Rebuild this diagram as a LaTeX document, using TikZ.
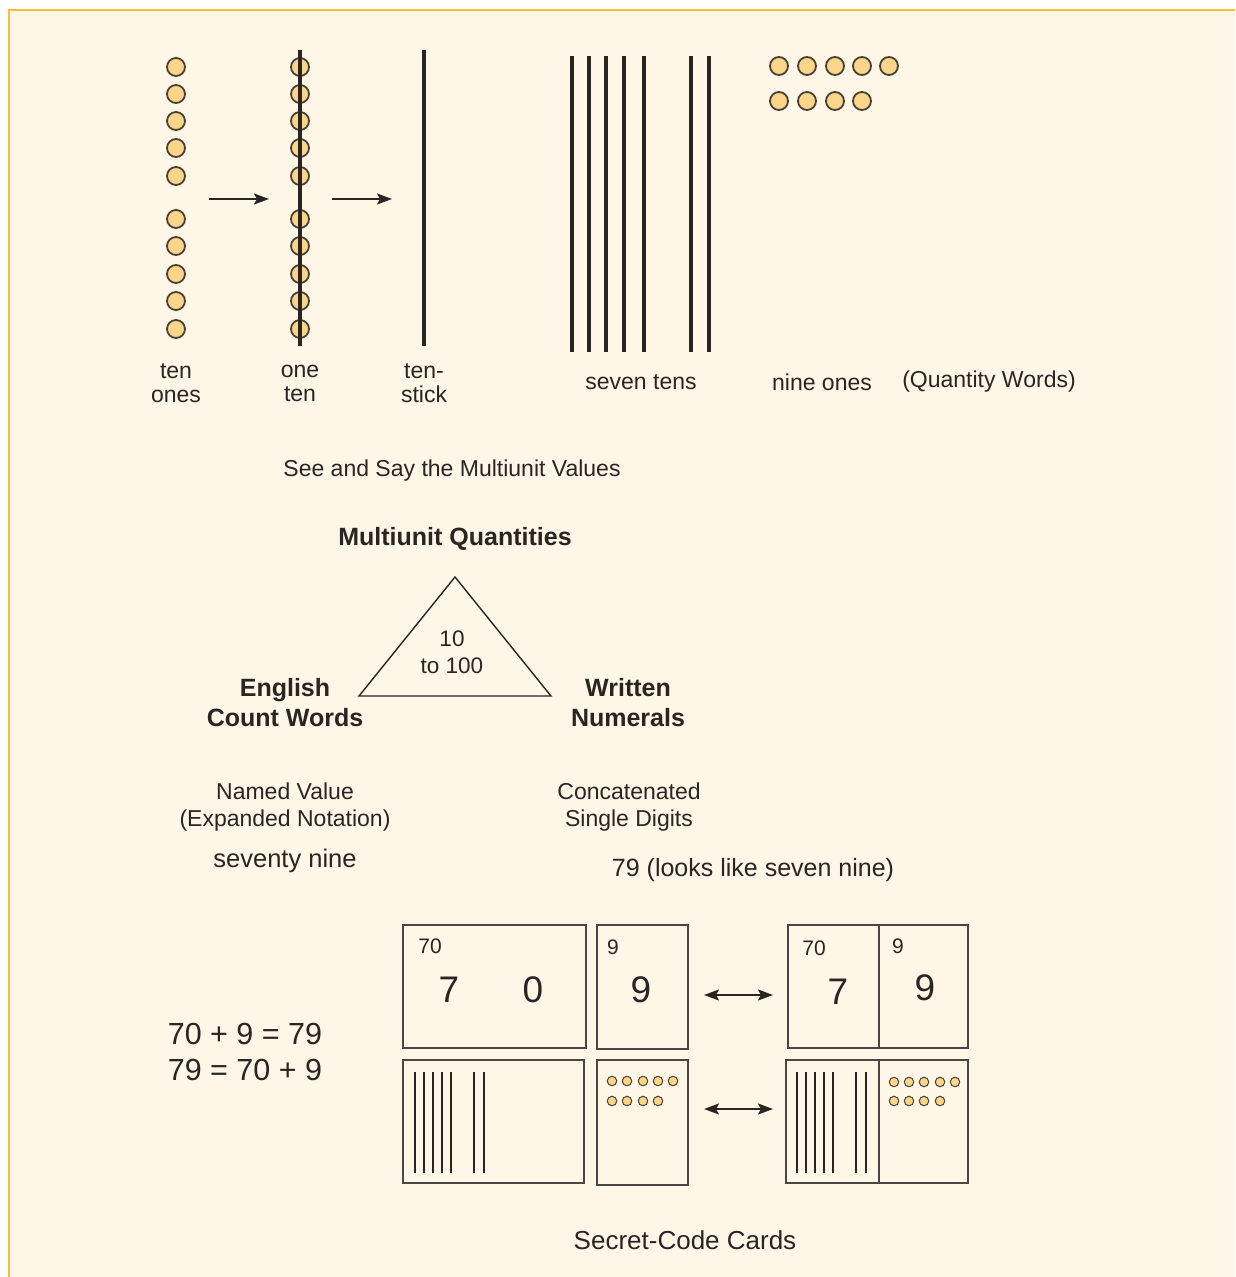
\documentclass[tikz,border=0pt]{standalone}
\usepackage{fontspec}
\setmainfont{Liberation Sans}
\usetikzlibrary{arrows.meta}
\definecolor{bg}{HTML}{FEF6E7}
\definecolor{edge}{HTML}{FBBF3A}
\definecolor{bead}{HTML}{FAD58A}
\definecolor{beadline}{HTML}{4A4034}
\definecolor{ink}{HTML}{2B2522}
\tikzset{
  beadbig/.style={circle,draw=beadline,fill=bead,line width=1.8pt,minimum size=18pt,inner sep=0pt},
  beadsmall/.style={circle,draw=beadline,fill=bead,line width=1pt,minimum size=9.5pt,inner sep=0pt},
  rodthick/.style={draw=ink,line width=4.5pt},
  rodthin/.style={draw=ink,line width=1.6pt},
  card/.style={draw=ink!85,line width=1.4pt},
  lbl/.style={text=ink,font=\fontsize{23}{24}\selectfont,align=center,inner sep=0pt},
  blbl/.style={text=ink,font=\fontsize{25}{30}\selectfont\bfseries,align=center,inner sep=0pt},
  small/.style={text=ink,font=\fontsize{21}{22}\selectfont,inner sep=0pt},
  big/.style={text=ink,font=\fontsize{37}{40}\selectfont,inner sep=0pt},
  tip/.tip={Stealth[length=15pt,width=11pt,inset=3pt]},
  arr/.style={-tip,draw=ink,line width=1.7pt},
  darr/.style={tip-tip,draw=ink,line width=1.7pt},
}
\begin{document}
\begin{tikzpicture}[x=1pt,y=-1pt]
\useasboundingbox (0,0) rectangle (1235,1277);
\fill[white] (0,0) rectangle (1235,1277);
\fill[bg] (9,10) rectangle (1235,1277);
\draw[edge,line width=2pt] (9,1277) -- (9,10) -- (1235,10);

% ten ones
\foreach \i/\y in {1/67,2/94,3/121,4/148,5/176,6/219,7/246,8/274,9/301,10/329}{
  \node[beadbig] (a\i) at (176,\y) {};
}
% one ten
\foreach \i/\y in {1/67,2/94,3/121,4/148,5/176,6/219,7/246,8/274,9/301,10/329}{
  \node[beadbig] (b\i) at (300,\y) {};
}
\coordinate (rodtop) at (300,50);
\coordinate (rodbot) at (300,346);
\draw[rodthick] (rodtop) -- (rodbot);
% ten-stick
\coordinate (sticktop) at (424,50);
\coordinate (stickbot) at (424,346);
\draw[rodthick] (sticktop) -- (stickbot);
% arrows
\coordinate (ar1s) at (209,199); \coordinate (ar1e) at (269,199);
\coordinate (ar2s) at (332,199); \coordinate (ar2e) at (392,199);
\draw[arr] (ar1s) -- (ar1e);
\draw[arr] (ar2s) -- (ar2e);

% seven tens
\foreach \i/\x in {1/572,2/589,3/606,4/624,5/644,6/691,7/709}{
  \coordinate (st\i) at (\x,56); \coordinate (sb\i) at (\x,352);
  \draw[rodthick] (st\i) -- (sb\i);
}
% nine ones
\foreach \i/\x in {1/779,2/807,3/835,4/862,5/889}{ \node[beadbig] (n\i) at (\x,66) {}; }
\foreach \i/\x in {6/779,7/807,8/835,9/862}{ \node[beadbig] (n\i) at (\x,101) {}; }

% labels
\node[lbl] (l1) at (176,383) {ten\\ones};
\node[lbl] (l2) at (300,383) {one\\ten};
\node[lbl] (l3) at (424,383) {ten-\\stick};
\node[lbl] (l4) at (641,382) {seven tens};
\node[lbl] (l5) at (822,382) {nine ones};
\node[lbl] (l6) at (989,382) {(Quantity Words)};
\node[lbl] (see) at (452,471) {See and Say the Multiunit Values};

% triangle
\node[blbl] (mq) at (455,539) {Multiunit Quantities};
\coordinate (tA) at (455,577);
\coordinate (tB) at (359,696);
\coordinate (tC) at (551,696);
\draw[ink,line width=1.4pt,line join=miter] (tA) -- (tB) -- (tC) -- cycle;
\node[lbl,font=\fontsize{22.5}{27}\selectfont] (tri) at (452,652) {10\\to 100};
\node[blbl] (eng) at (285,703) {English\\Count Words};
\node[blbl] (wri) at (628,703) {Written\\Numerals};
\node[lbl,font=\fontsize{23}{27}\selectfont] (nv) at (285,807) {Named Value\\(Expanded Notation)};
\node[lbl,font=\fontsize{25.5}{27}\selectfont] (sn) at (285,861) {seventy nine};
\node[lbl,font=\fontsize{23}{27}\selectfont] (cs) at (629,807) {Concatenated\\Single Digits};
\node[lbl,font=\fontsize{25}{27}\selectfont] (sv) at (753,870) {79 (looks like seven nine)};

% equations
\node[lbl,font=\fontsize{30.5}{36}\selectfont,align=left] (eq) at (245,1052) {70 + 9 = 79\\79 = 70 + 9};

% cards top
\node[card,minimum width=183pt,minimum height=123pt,inner sep=0pt] (c70) at (494.5,986.5) {};
\node[small] (c70s) at (430,946) {70};
\node[big] (c70a) at (449,990) {7};
\node[big] (c70b) at (533,990) {0};
\node[card,minimum width=91pt,minimum height=124pt,inner sep=0pt] (c9) at (642.5,987) {};
\node[small] (c9s) at (613,947) {9};
\node[big] (c9a) at (641,990) {9};
\node[card,minimum width=180pt,minimum height=123pt,inner sep=0pt] (cc) at (878,986.5) {};
\coordinate (cct) at (879,925); \coordinate (ccb) at (879,1048);
\draw[card] (cct) -- (ccb);
\node[small] (ccs1) at (814,948) {70};
\node[big] (cca) at (838,992) {7};
\node[small] (ccs2) at (898,946) {9};
\node[big] (ccb9) at (925,988) {9};
\coordinate (d1s) at (704,995); \coordinate (d1e) at (773,995);
\draw[darr] (d1s) -- (d1e);

% cards bottom
\node[card,minimum width=181pt,minimum height=123pt,inner sep=0pt] (q70) at (493.5,1121.5) {};
\foreach \i/\x in {1/415,2/424,3/433,4/442,5/451,6/474,7/484}{
  \coordinate (qt\i) at (\x,1072); \coordinate (qb\i) at (\x,1173);
  \draw[rodthin] (qt\i) -- (qb\i);
}
\node[card,minimum width=91pt,minimum height=125pt,inner sep=0pt] (q9) at (642.5,1122.5) {};
\foreach \i/\x in {1/612,2/627,3/643,4/658,5/673}{ \node[beadsmall] (qd\i) at (\x,1081) {}; }
\foreach \i/\x in {6/612,7/627,8/643,9/658}{ \node[beadsmall] (qd\i) at (\x,1101) {}; }
\node[card,minimum width=182pt,minimum height=123pt,inner sep=0pt] (qc) at (877,1121.5) {};
\coordinate (qct) at (879,1060); \coordinate (qcb) at (879,1183);
\draw[card] (qct) -- (qcb);
\foreach \i/\x in {1/797,2/806,3/815,4/824,5/833,6/856,7/866}{
  \coordinate (rt\i) at (\x,1072); \coordinate (rb\i) at (\x,1173);
  \draw[rodthin] (rt\i) -- (rb\i);
}
\foreach \i/\x in {1/894,2/909,3/924,4/940,5/955}{ \node[beadsmall] (rd\i) at (\x,1082) {}; }
\foreach \i/\x in {6/894,7/909,8/924,9/940}{ \node[beadsmall] (rd\i) at (\x,1101) {}; }
\coordinate (d2s) at (704,1109); \coordinate (d2e) at (773,1109);
\draw[darr] (d2s) -- (d2e);

\node[lbl,font=\fontsize{26}{28}\selectfont] (scc) at (685,1240) {Secret-Code Cards};
\end{tikzpicture}
\end{document}
